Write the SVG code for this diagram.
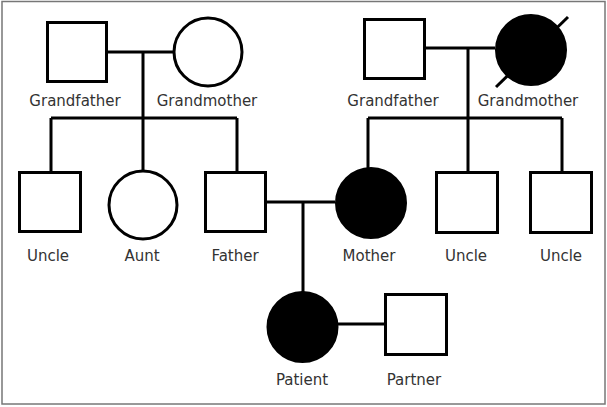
<svg xmlns="http://www.w3.org/2000/svg" width="607" height="407" viewBox="0 0 607 407">
<style>
.n{fill:#fff;stroke:#000;stroke-width:3}
.a{fill:#000;stroke:#000;stroke-width:3}
.c{fill:none;stroke:#000;stroke-width:3}
text{font-family:"DejaVu Sans","Liberation Sans",sans-serif;font-size:15px;fill:#333;text-anchor:middle}
</style>
<rect x="2" y="1.5" width="603" height="402.5" fill="#fff" stroke="#777" stroke-width="1.5"/>
<g id="connectors">
<path class="c" d="M108 52H173M143 52V118M51 118H237M51 118V171M143 118V170M237 118V171"/>
<path class="c" d="M426 48H495M468 48V118M368 118H562M368 118V168M468 118V171M562 118V171"/>
<path class="c" d="M267 202H335M303 202V292M338 324H384"/>
</g>
<g id="gf1"><rect class="n" x="47.5" y="22.5" width="59" height="59"/><text x="75" y="106">Grandfather</text></g>
<g id="gm1"><circle class="n" cx="208" cy="52" r="34"/><text x="207" y="106">Grandmother</text></g>
<g id="gf2"><rect class="n" x="364.5" y="19.5" width="60" height="59"/><text x="393" y="106">Grandfather</text></g>
<g id="gm2"><circle class="a" cx="531" cy="50" r="34.5"/><line x1="496" y1="87" x2="568" y2="17" stroke="#000" stroke-width="3"/><text x="528" y="106">Grandmother</text></g>
<g id="uncle1"><rect class="n" x="19.5" y="172.5" width="61" height="59"/><text x="48" y="261">Uncle</text></g>
<g id="aunt"><circle class="n" cx="143" cy="205" r="34"/><text x="142" y="261">Aunt</text></g>
<g id="father"><rect class="n" x="205.5" y="172.5" width="60" height="59"/><text x="235" y="261">Father</text></g>
<g id="mother"><circle class="a" cx="371" cy="203" r="34.5"/><text x="369" y="261">Mother</text></g>
<g id="uncle2"><rect class="n" x="436.5" y="172.5" width="61" height="60"/><text x="466" y="261">Uncle</text></g>
<g id="uncle3"><rect class="n" x="530.5" y="172.5" width="61" height="60"/><text x="561" y="261">Uncle</text></g>
<g id="patient"><circle class="a" cx="302.5" cy="327" r="34.5"/><text x="302" y="385">Patient</text></g>
<g id="partner"><rect class="n" x="385.5" y="294.5" width="61" height="60"/><text x="414" y="385">Partner</text></g>
</svg>
